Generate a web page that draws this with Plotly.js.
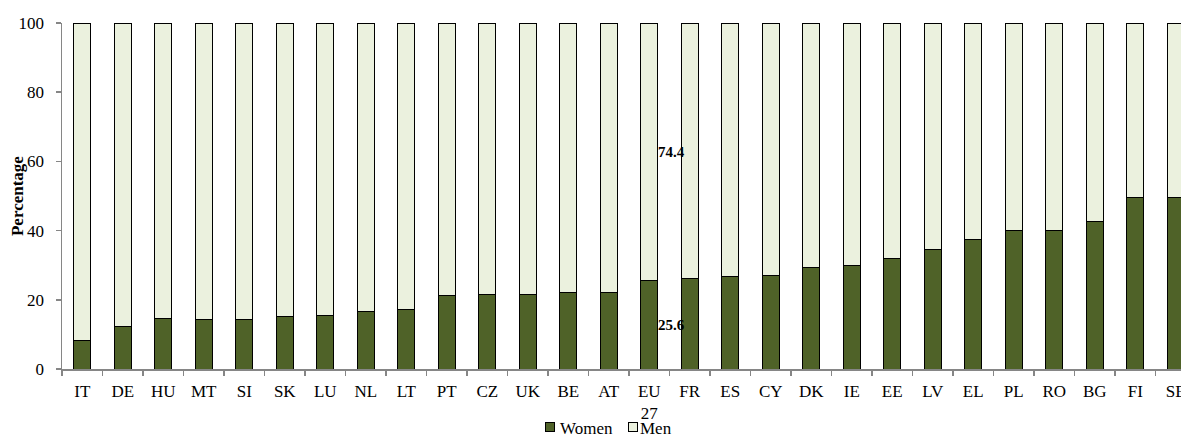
<!DOCTYPE html>
<html>
<head>
<meta charset="utf-8">
<script src="https://cdn.plot.ly/plotly-3.0.1.min.js"></script>
<style>html,body{margin:0;padding:0;background:#fff;}#chart{width:1181px;height:439px;}</style>
</head>
<body>
<div id="chart"></div>
<script>
var categories = ["IT","DE","HU","MT","SI","SK","LU","NL","LT","PT","CZ","UK","BE","AT","EU<br>27","FR","ES","CY","DK","IE","EE","LV","EL","PL","RO","BG","FI","SE"];
var women = [8.1,12.4,14.5,14.4,14.4,15.1,15.6,16.7,17.2,21.2,21.6,21.6,22.0,22.0,25.6,26.3,26.7,27.1,29.2,29.9,31.9,34.6,37.5,39.9,39.9,42.7,49.7,49.7];
var men = [91.9,87.6,85.5,85.6,85.6,84.9,84.4,83.3,82.8,78.8,78.4,78.4,78.0,78.0,74.4,73.7,73.3,72.9,70.8,70.1,68.1,65.4,62.5,60.1,60.1,57.3,50.3,50.3];
var seriesNames = ["Women", "Men"];
var seriesColors = ["#4F6228", "#EBF1DE"];
var labelCategory = "EU<br>27";
var yTitle = "Percentage";

var idx = categories.indexOf(labelCategory);
var FAM = "Liberation Serif";
var font = {family: FAM, size: 17, color: "#000"};

var traces = [
  {type: "bar", name: seriesNames[0], x: categories, y: women, width: 0.41,
   marker: {color: seriesColors[0], line: {color: "#000", width: 1}}, hoverinfo: "x+y"},
  {type: "bar", name: seriesNames[1], x: categories, y: men, width: 0.41,
   marker: {color: seriesColors[1], line: {color: "#000", width: 1}}, hoverinfo: "x+y"}
];

var annFont = {family: FAM, size: 15, color: "#000"};
var annotations = [
  {x: idx, y: women[idx] / 2, xref: "x", yref: "y", text: "<b>" + women[idx].toFixed(1) + "</b>",
   showarrow: false, xanchor: "left", xshift: 7, font: annFont},
  {x: idx, y: women[idx] + men[idx] / 2, xref: "x", yref: "y", text: "<b>" + men[idx].toFixed(1) + "</b>",
   showarrow: false, xanchor: "left", xshift: 7, font: annFont},
  {x: -0.0402, y: 0.5, xref: "paper", yref: "paper", text: "<b>" + yTitle + "</b>", textangle: -90,
   showarrow: false, xanchor: "center", yanchor: "middle", font: font}
];

// legend drawn as annotations (key boxes + labels)
var legY = -0.171;
var legBoxX = [0.4361, 0.5103];
var legTextX = [0.4441, 0.5156];
for (var i = 0; i < seriesNames.length; i++) {
  annotations.push({x: legBoxX[i], y: legY, xref: "paper", yref: "paper", text: " ",
    showarrow: false, xanchor: "center", yanchor: "middle", width: 8, height: 8, yshift: 1,
    bgcolor: seriesColors[i], bordercolor: "#000", borderwidth: 1, borderpad: 0,
    font: {family: FAM, size: 1}});
  annotations.push({x: legTextX[i], y: legY, xref: "paper", yref: "paper", text: seriesNames[i],
    showarrow: false, xanchor: "left", yanchor: "middle", borderpad: 0, font: font});
}

var layout = {
  width: 1181, height: 439,
  margin: {l: 62, r: 0, t: 23, b: 70, pad: 0, autoexpand: false},
  paper_bgcolor: "#fff", plot_bgcolor: "#fff",
  barmode: "stack",
  font: font,
  showlegend: false,
  xaxis: {type: "category", range: [-0.5, 27.13], showgrid: false, zeroline: false,
          showline: true, linecolor: "#868686", linewidth: 1.5,
          ticks: "outside", tickson: "boundaries", ticklen: 5, tickcolor: "#868686", tickwidth: 1.5,
          tickfont: font, ticklabelstandoff: 6, automargin: false, fixedrange: true},
  yaxis: {range: [0, 100], tickvals: [0,20,40,60,80,100], showgrid: false, zeroline: false,
          showline: true, linecolor: "#868686", linewidth: 1.5,
          ticks: "outside", ticklen: 5, tickcolor: "#868686", tickwidth: 1.5,
          tickfont: font, ticklabelstandoff: 8, automargin: false, fixedrange: true},
  annotations: annotations
};

Plotly.newPlot("chart", traces, layout, {displayModeBar: false, staticPlot: true});
</script>
</body>
</html>
